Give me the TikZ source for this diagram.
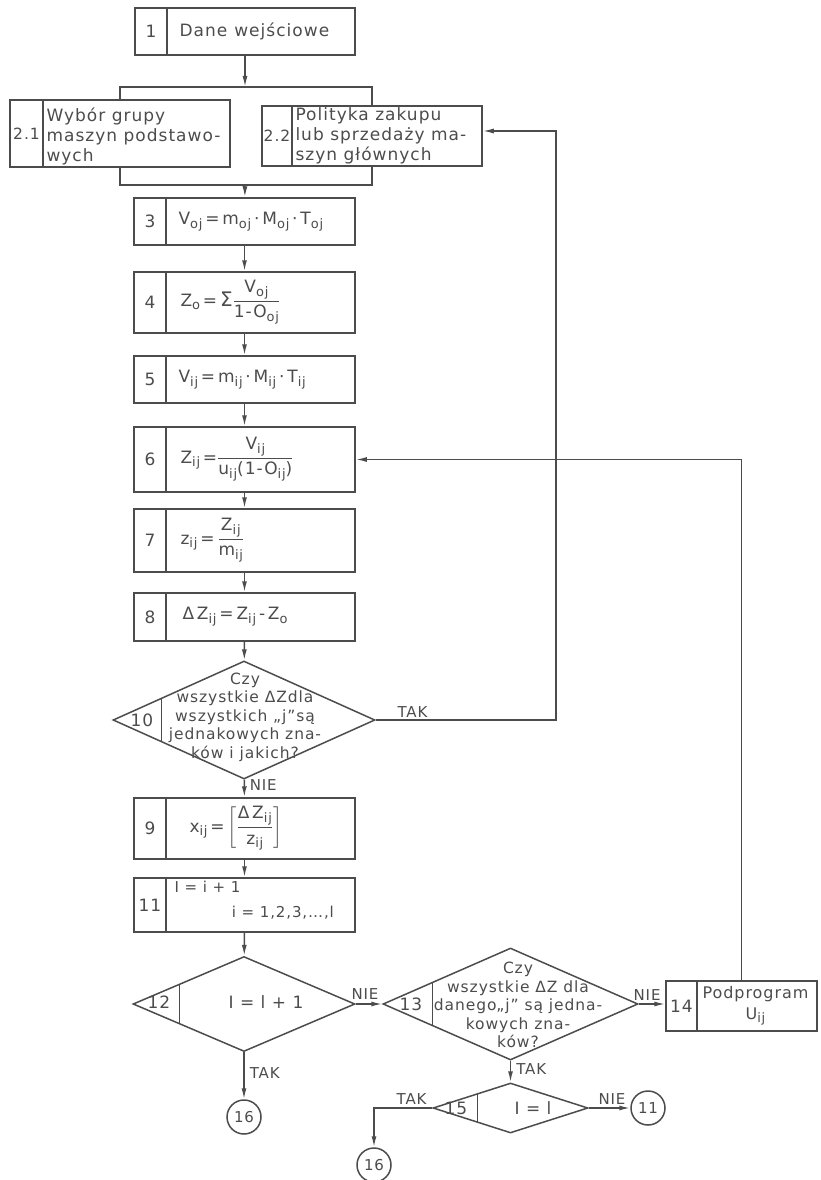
\documentclass[tikz,border=0pt]{standalone}
\usepackage{amsmath}
\usepackage{fontspec}
\setmainfont{DejaVu Sans}[LetterSpace=6]
\usetikzlibrary{positioning,shapes.geometric,calc,arrows.meta}
\definecolor{ink}{gray}{0.3}
\newcommand{\ix}[2]{#1\raisebox{-0.4ex}{\fontsize{13}{13}\selectfont #2}}

\begin{document}
\begin{tikzpicture}[x=1pt, y=-1pt, color=ink, line width=1.5pt,
    font=\fontsize{17}{20}\selectfont,
    blk/.style={draw, rectangle, inner sep=0pt},
    numcell/.style={draw, rectangle, inner sep=0pt, anchor=north west},
    txt/.style={inner sep=2pt, align=left},
    dec/.style={draw, diamond, inner sep=0pt},
    joint/.style={draw, circle, minimum size=34pt, inner sep=0pt, font=\fontsize{15}{15}\selectfont},
    small/.style={font=\fontsize{15.5}{18.5}\selectfont, inner sep=0pt, align=center},
    answer/.style={font=\fontsize{15}{17}\selectfont, inner sep=1pt},
    conn/.style={-{Latex[length=11pt,width=5pt]}},
  ]
  \useasboundingbox (0,0) rectangle (820,1180);

  % blok 1 - dane
  \node[blk, minimum width=220pt, minimum height=47pt] (b1) at (245,31.5) {};
  \node[numcell, minimum width=32pt, minimum height=47pt] (n1) at (b1.north west) {1};
  \node[txt, right=9pt of n1] (t1) {Dane\hspace{7pt}wejściowe};

  % bloki 2.1 i 2.2
  \node[blk, minimum width=220pt, minimum height=67pt] (b21) at (120,133.5) {};
  \node[numcell, minimum width=33pt, minimum height=67pt, font=\fontsize{15.5}{15}\selectfont] (n21) at (b21.north west) {2.1};
  \node[txt, right=0pt of n21, yshift=-3pt] (t21) {Wybór grupy\\maszyn podstawo-\\wych};
  \node[blk, minimum width=220pt, minimum height=60pt] (b22) at (372,136) {};
  \node[numcell, minimum width=30pt, minimum height=60pt, font=\fontsize{15.5}{15}\selectfont] (n22) at (b22.north west) {2.2};
  \node[txt, right=0pt of n22] (t22) {Polityka zakupu\\lub sprzedaży ma-\\szyn głównych};

  % szyna rozgalezienia
  \coordinate (busT) at (245,87);
  \coordinate (busB) at (245,185);
  \draw[conn] (b1) -- (busT);
  \draw (b21.north) |- (busT) -| (b22.north);
  \draw (b21.south) |- (busB) -| (b22.south);

  % bloki 3 - 8
  \node[blk, minimum width=221pt, minimum height=47pt] (b3) at (244.5,221.5) {};
  \node[numcell, minimum width=32pt, minimum height=47pt] (n3) at (b3.north west) {3};
  \node[txt, right=9pt of n3] (t3) {\ix{V}{oj}\,=\,\ix{m}{oj}\,·\,\ix{M}{oj}\,·\,\ix{T}{oj}};

  \node[blk, minimum width=221pt, minimum height=61pt] (b4) at (244.5,302.5) {};
  \node[numcell, minimum width=32pt, minimum height=61pt] (n4) at (b4.north west) {4};
  \node[txt, right=11pt of n4] (t4) {\ix{Z}{o}\,=\,{\fontsize{20}{20}\selectfont Σ}$\dfrac{\text{\ix{V}{oj}}}{\text{1-\ix{O}{oj}}}$};

  \node[blk, minimum width=221pt, minimum height=47pt] (b5) at (244.5,379.5) {};
  \node[numcell, minimum width=32pt, minimum height=47pt] (n5) at (b5.north west) {5};
  \node[txt, right=9pt of n5] (t5) {\ix{V}{ij}\,=\,\ix{m}{ij}\,·\,\ix{M}{ij}\,·\,\ix{T}{ij}};

  \node[blk, minimum width=221pt, minimum height=65pt] (b6) at (244.5,459.5) {};
  \node[numcell, minimum width=32pt, minimum height=65pt] (n6) at (b6.north west) {6};
  \node[txt, right=11pt of n6] (t6) {\ix{Z}{ij}\,=$\dfrac{\text{\ix{V}{ij}}}{\text{\ix{u}{ij}(1-\ix{O}{ij})}}$};

  \node[blk, minimum width=221pt, minimum height=63pt] (b7) at (244.5,540.5) {};
  \node[numcell, minimum width=32pt, minimum height=63pt] (n7) at (b7.north west) {7};
  \node[txt, right=11pt of n7] (t7) {\ix{z}{ij}\,=\,$\dfrac{\text{\ix{Z}{ij}}}{\text{\ix{m}{ij}}}$};

  \node[blk, minimum width=221pt, minimum height=48pt] (b8) at (244.5,617) {};
  \node[numcell, minimum width=32pt, minimum height=48pt] (n8) at (b8.north west) {8};
  \node[txt, right=13pt of n8] (t8) {Δ\,\ix{Z}{ij}\,=\,\ix{Z}{ij}\,-\,\ix{Z}{o}};

  \draw[conn] (busB) -- (b3);
  \draw[conn] (b3) -- (b4);
  \draw[conn] (b4) -- (b5);
  \draw[conn] (b5) -- (b6);
  \draw[conn] (b6) -- (b7);
  \draw[conn] (b7) -- (b8);

  % decyzja 10
  \node[dec, minimum width=262pt, minimum height=118pt] (d10) at (244,720) {};
  \draw ($(d10.west)!0.374!(d10.north)$) -- ($(d10.west)!0.374!(d10.south)$);
  \node (n10) at (142,720) {10};
  \node[small] (t10) at (245,717) {Czy\\wszystkie ΔZdla\\wszystkich „j”są\\jednakowych zna-\\ków i jakich?};
  \draw[conn] (b8) -- (d10);
  \coordinate (r10) at (556,131);
  \draw[conn] (d10.east) -| (r10) -- (r10 -| b22.east);
  \node[answer, above right=1pt and 20pt of d10.east] (lTAK10) {TAK};

  % bloki 9 i 11
  \node[blk, minimum width=221pt, minimum height=61pt] (b9) at (244.5,828.5) {};
  \node[numcell, minimum width=32pt, minimum height=61pt] (n9) at (b9.north west) {9};
  \node[txt, inner sep=0pt, right=22pt of n9] (t9) {\ix{x}{ij}\,=\,$\left[\dfrac{\text{Δ\,\ix{Z}{ij}}}{\text{\ix{z}{ij}}}\right]$};
  \draw[conn] (d10) -- (b9);
  \node[answer, inner sep=0pt, anchor=west] (lNIE10) at ($(d10.south)+(5,5)$) {NIE};

  \node[blk, minimum width=221pt, minimum height=54pt] (b11) at (244.5,905) {};
  \node[numcell, minimum width=32pt, minimum height=54pt] (n11) at (b11.north west) {11};
  \node[txt, anchor=north west, font=\fontsize{15}{17}\selectfont] (t11a) at ($(n11.north east)+(5,1)$) {I = i + 1};
  \node[txt, anchor=west, font=\fontsize{15}{17}\selectfont] (t11b) at (229,913) {i = 1,2,3,…,l};
  \draw[conn] (b9) -- (b11);

  % decyzja 12
  \node[dec, minimum width=222pt, minimum height=95pt] (d12) at (244,1004) {};
  \draw ($(d12.west)!0.423!(d12.north)$) -- ($(d12.west)!0.423!(d12.south)$);
  \node (n12) at (159,1002) {12};
  \node (t12) at (266,1002) {I = l + 1};
  \draw[conn] (b11) -- (d12);
  \node[joint] (c16a) at (244,1117) {16};
  \draw[conn] (d12) -- node[answer, right=4pt, pos=0.45] (lTAK12) {TAK} (c16a);

  % decyzja 13
  \node[dec, minimum width=255pt, minimum height=112pt] (d13) at (510.5,1004) {};
  \draw ($(d13.west)!0.392!(d13.north)$) -- ($(d13.west)!0.392!(d13.south)$);
  \node (n13) at (411,1004) {13};
  \node[small] (t13) at (518,1005) {Czy\\wszystkie ΔZ dla\\danego„j” są jedna-\\kowych zna-\\ków?};
  \draw[conn] (d12.east) -- (d13.west);
  \node[answer, above=3pt] (lNIE12) at ($(d12.east)!0.35!(d13.west)$) {NIE};

  % blok 14 - podprogram
  \node[blk, minimum width=151pt, minimum height=50pt] (b14) at (741.5,1006) {};
  \node[numcell, minimum width=31pt, minimum height=50pt] (n14) at (b14.north west) {14};
  \node[txt, align=center, right=2pt of n14, font=\fontsize{16}{21}\selectfont] (t14) {Podprogram\\\ix{U}{ij}};
  \draw[conn] (d13.east) -- (d13.east -| b14.west);
  \node[answer, above left=2pt and 3pt of {d13.east -| b14.west}] (lNIE13) {NIE};
  \draw[conn] (b14.north) |- (b6.east);

  % decyzja 15
  \node[dec, minimum width=155pt, minimum height=50pt] (d15) at (510.5,1108) {};
  \draw ($(d15.west)!0.58!(d15.north)$) -- ($(d15.west)!0.58!(d15.south)$);
  \node (n15) at (456,1108) {15};
  \node (t15) at (533,1108) {I = l};
  \draw[conn] (d13) -- node[answer, right=4pt, pos=0.4] (lTAK13) {TAK} (d15);
  \node[joint] (c11) at (648,1108) {11};
  \draw[conn] (d15.east) -- (c11);
  \node[answer, above right=2pt and 8pt of d15.east] (lNIE15) {NIE};
  \node[joint] (c16b) at (374,1165) {16};
  \draw[conn] (d15.west) -| (c16b);
  \node[answer, above left=2pt and 4pt of d15.west] (lTAK15) {TAK};
\end{tikzpicture}
\end{document}
